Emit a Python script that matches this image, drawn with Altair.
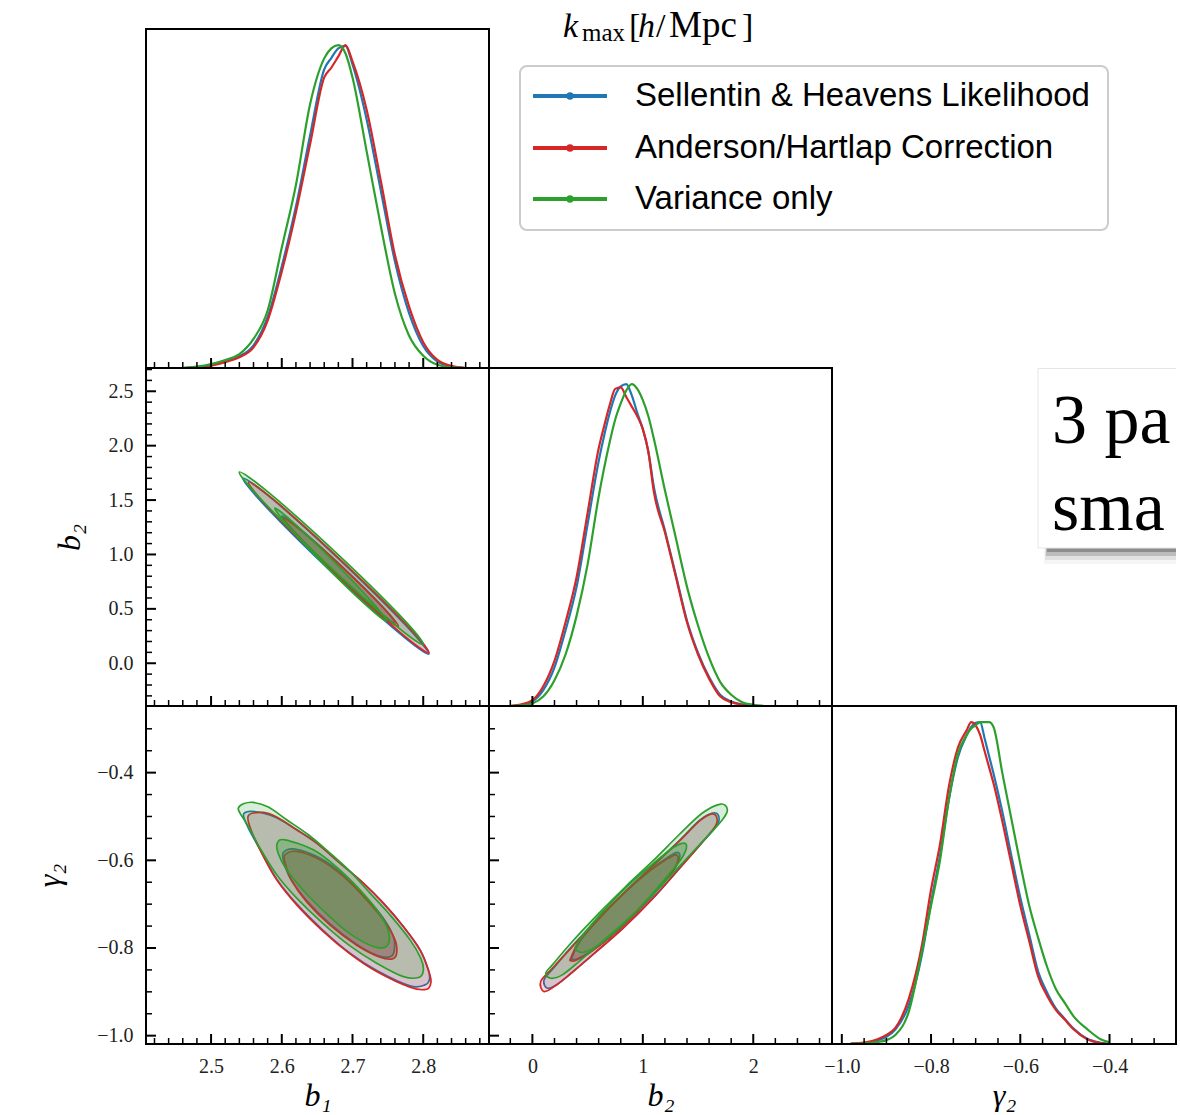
import altair as alt
import pandas as pd

SERIF = "Liberation Serif"
SANS = "Liberation Sans"

SERIES = ["Sellentin & Heavens Likelihood", "Anderson/Hartlap Correction", "Variance only"]
COLORS = ["#1f77b4", "#d62728", "#2ca02c"]

# ---------------- axis ranges and ticks ----------------
B1_DOMAIN = [2.408, 2.893]
B2_DOMAIN_X = [-0.393, 2.713]
B2_DOMAIN_Y = [-0.393, 2.714]
G2_DOMAIN_X = [-1.022, -0.251]
G2_DOMAIN_Y = [-1.019, -0.248]
PDF_DOMAIN = [0.0, 1.05]

B1_MAJOR = [2.5, 2.6, 2.7, 2.8]
B1_MINOR = [2.42, 2.44, 2.46, 2.48, 2.52, 2.54, 2.56, 2.58, 2.62, 2.64, 2.66, 2.68,
            2.72, 2.74, 2.76, 2.78, 2.82, 2.84, 2.86, 2.88]
B2X_MAJOR = [0, 1, 2]
B2X_MINOR = [-0.2, 0.2, 0.4, 0.6, 0.8, 1.2, 1.4, 1.6, 1.8, 2.2, 2.4, 2.6]
B2Y_MAJOR = [0.0, 0.5, 1.0, 1.5, 2.0, 2.5]
B2Y_MINOR = [-0.3, -0.2, -0.1, 0.1, 0.2, 0.3, 0.4, 0.6, 0.7, 0.8, 0.9, 1.1, 1.2, 1.3,
             1.4, 1.6, 1.7, 1.8, 1.9, 2.1, 2.2, 2.3, 2.4, 2.6, 2.7]
G2_MAJOR = [-1.0, -0.8, -0.6, -0.4]
G2_MINOR = [-0.95, -0.9, -0.85, -0.75, -0.7, -0.65, -0.55, -0.5, -0.45, -0.35, -0.3]

# ---------------- 1D marginals (normalised to peak) ----------------
B1_GRID = [2.46, 2.48, 2.50, 2.52, 2.54, 2.56, 2.58, 2.60, 2.62, 2.64, 2.66, 2.67, 2.68,
           2.69, 2.70, 2.72, 2.74, 2.76, 2.78, 2.80, 2.82, 2.84, 2.86]
B1_PDF_SH = [0.0, 0.003, 0.009, 0.02, 0.036, 0.07, 0.158, 0.315, 0.50, 0.72, 0.925, 0.96, 0.99,
             0.998, 0.94, 0.77, 0.55, 0.33, 0.17, 0.068, 0.02, 0.005, 0.0]
B1_PDF_AH = [0.0, 0.002, 0.007, 0.018, 0.033, 0.064, 0.147, 0.299, 0.482, 0.693, 0.90, 0.93, 0.965,
             1.0, 0.95, 0.80, 0.58, 0.35, 0.19, 0.08, 0.025, 0.006, 0.0]
B1_PDF_VO = [0.0, 0.004, 0.012, 0.025, 0.043, 0.09, 0.178, 0.373, 0.567, 0.817, 0.959, 0.99, 1.0,
             0.975, 0.90, 0.671, 0.44, 0.23, 0.10, 0.038, 0.01, 0.002, 0.0]

B2_GRID = [-0.2, -0.1, 0.0, 0.1, 0.2, 0.3, 0.4, 0.5, 0.6, 0.65, 0.7, 0.75, 0.8, 0.85, 0.9, 0.95,
           1.0, 1.05, 1.1, 1.2, 1.3, 1.4, 1.5, 1.6, 1.7, 1.8, 1.9, 2.0, 2.1]
B2_PDF_SH = [0.0, 0.003, 0.014, 0.05, 0.12, 0.235, 0.37, 0.565, 0.76, 0.84, 0.91, 0.965, 0.993, 1.0,
             0.965, 0.91, 0.86, 0.79, 0.68, 0.545, 0.405, 0.265, 0.165, 0.09, 0.035, 0.014, 0.005, 0.0, 0.0]
B2_PDF_AH = [0.0, 0.005, 0.018, 0.062, 0.14, 0.26, 0.40, 0.60, 0.80, 0.87, 0.935, 0.985, 0.99, 0.96,
             0.93, 0.90, 0.86, 0.79, 0.665, 0.54, 0.40, 0.26, 0.16, 0.085, 0.03, 0.012, 0.004, 0.0, 0.0]
B2_PDF_VO = [0.0, 0.002, 0.008, 0.03, 0.08, 0.16, 0.28, 0.44, 0.65, 0.74, 0.82, 0.89, 0.94, 0.98,
             1.0, 0.985, 0.95, 0.90, 0.83, 0.67, 0.52, 0.37, 0.25, 0.15, 0.075, 0.035, 0.012, 0.004, 0.0]

G2_GRID = [-0.98, -0.95, -0.92, -0.90, -0.88, -0.85, -0.82, -0.80, -0.78, -0.76, -0.74, -0.72,
           -0.71, -0.70, -0.69, -0.68, -0.67, -0.66, -0.64, -0.62, -0.60, -0.58, -0.56, -0.54,
           -0.52, -0.50, -0.48, -0.45, -0.42, -0.40]
G2_PDF_SH = [0.001, 0.003, 0.012, 0.022, 0.045, 0.12, 0.28, 0.44, 0.585, 0.76, 0.89, 0.96,
             0.985, 0.998, 1.0, 0.95, 0.895, 0.84, 0.72, 0.585, 0.455, 0.34, 0.225, 0.16,
             0.11, 0.078, 0.047, 0.016, 0.004, 0.0]
G2_PDF_AH = [0.001, 0.004, 0.015, 0.028, 0.05, 0.14, 0.31, 0.48, 0.62, 0.80, 0.92, 0.975,
             1.0, 0.99, 0.96, 0.91, 0.86, 0.81, 0.69, 0.56, 0.43, 0.32, 0.21, 0.15,
             0.105, 0.075, 0.045, 0.015, 0.003, 0.0]
G2_PDF_VO = [0.0, 0.002, 0.006, 0.012, 0.028, 0.10, 0.29, 0.43, 0.57, 0.76, 0.90, 0.96,
             0.98, 0.99, 1.0, 1.0, 1.0, 0.985, 0.84, 0.70, 0.56, 0.43, 0.33, 0.24,
             0.17, 0.127, 0.085, 0.046, 0.015, 0.005]

# ---------------- 2D contours (68% inner, 95% outer) ----------------
# b1 vs b2
C_B1B2_SH_OUT = [(2.808, 0.085), (2.774, 0.356), (2.6835, 0.9405), (2.589, 1.497), (2.545, 1.700),
                 (2.579, 1.429), (2.6695, 0.8445), (2.764, 0.288)]
C_B1B2_SH_IN = [(2.760, 0.370), (2.740, 0.536), (2.6846, 0.892), (2.6268, 1.231), (2.6003, 1.354),
                (2.6206, 1.189), (2.6758, 0.832), (2.7336, 0.493)]
C_B1B2_AH_OUT = [(2.808, 0.094), (2.776, 0.357), (2.687, 0.927), (2.595, 1.469), (2.553, 1.666),
                 (2.585, 1.402), (2.674, 0.833), (2.766, 0.291)]
C_B1B2_AH_IN = [(2.7648, 0.340), (2.744, 0.507), (2.688, 0.868), (2.629, 1.211), (2.602, 1.335),
                (2.623, 1.168), (2.679, 0.8075), (2.736, 0.464)]
C_B1B2_VO_OUT = [(2.800, 0.172), (2.767, 0.440), (2.677, 1.015), (2.583, 1.561), (2.540, 1.758),
                 (2.573, 1.490), (2.663, 0.915), (2.757, 0.369)]
C_B1B2_VO_IN = [(2.748, 0.386), (2.728, 0.559), (2.6735, 0.9355), (2.616, 1.295), (2.590, 1.427),
                (2.610, 1.254), (2.6645, 0.8775), (2.722, 0.518)]

# b1 vs gamma2
C_B1G2_SH_OUT = [(2.5457, -0.4961), (2.5551, -0.4885), (2.5739, -0.4923), (2.5928, -0.5029),
                 (2.6211, -0.5303), (2.6493, -0.5608), (2.6823, -0.6064), (2.7153, -0.6521),
                 (2.7436, -0.6977), (2.7719, -0.7510), (2.7955, -0.8043), (2.8072, -0.8499),
                 (2.8087, -0.8728), (2.8025, -0.8842), (2.7813, -0.8865), (2.7342, -0.8515),
                 (2.6965, -0.8119), (2.6588, -0.7601), (2.6211, -0.6993), (2.5928, -0.6429),
                 (2.5716, -0.5821), (2.5527, -0.5265)]
C_B1G2_SH_IN = [(2.6022, -0.5821), (2.6187, -0.5745), (2.6541, -0.5950), (2.6871, -0.6330),
                (2.7200, -0.6863), (2.7436, -0.7320), (2.7578, -0.7738), (2.7592, -0.8043),
                (2.7540, -0.8195), (2.7365, -0.8180), (2.7050, -0.7906), (2.6682, -0.7449),
                (2.6352, -0.6916), (2.6126, -0.6429), (2.6032, -0.6049)]
C_B1G2_AH_OUT = [(2.5527, -0.4983), (2.5739, -0.4907), (2.5928, -0.5014), (2.6211, -0.5303),
                 (2.6493, -0.5608), (2.6823, -0.6064), (2.7153, -0.6521), (2.7436, -0.6977),
                 (2.7719, -0.7510), (2.7955, -0.8043), (2.8072, -0.8499), (2.8110, -0.8766),
                 (2.8049, -0.8941), (2.7813, -0.8895), (2.7342, -0.8538), (2.6965, -0.8134),
                 (2.6588, -0.7624), (2.6211, -0.7015), (2.5928, -0.6445), (2.5716, -0.5836),
                 (2.5574, -0.5341)]
C_B1G2_AH_IN = [(2.6046, -0.5874), (2.6211, -0.5798), (2.6541, -0.5988), (2.6871, -0.6368),
                (2.7200, -0.6901), (2.7436, -0.7358), (2.7601, -0.7815), (2.7625, -0.8119),
                (2.7568, -0.8248), (2.7389, -0.8210), (2.7059, -0.7936), (2.6682, -0.7480),
                (2.6352, -0.6947), (2.6140, -0.6460), (2.6050, -0.6079)]
C_B1G2_VO_OUT = [(2.5386, -0.4808), (2.5457, -0.4710), (2.5598, -0.4679), (2.5810, -0.4786),
                 (2.6069, -0.5075), (2.6376, -0.5417), (2.6682, -0.5836), (2.6965, -0.6254),
                 (2.7248, -0.6749), (2.7530, -0.7244), (2.7813, -0.7815), (2.7964, -0.8233),
                 (2.8002, -0.8499), (2.7945, -0.8667), (2.7719, -0.8652), (2.7342, -0.8347),
                 (2.6965, -0.7951), (2.6588, -0.7449), (2.6211, -0.6863), (2.5928, -0.6330),
                 (2.5692, -0.5722), (2.5527, -0.5227), (2.5409, -0.4923)]
C_B1G2_VO_IN = [(2.5937, -0.5608), (2.6046, -0.5532), (2.6446, -0.5760), (2.6776, -0.6156),
                (2.7106, -0.6673), (2.7342, -0.7130), (2.7483, -0.7510), (2.7521, -0.7815),
                (2.7460, -0.7982), (2.7295, -0.7967), (2.6965, -0.7678), (2.6635, -0.7221),
                (2.6305, -0.6688), (2.6069, -0.6216), (2.5951, -0.5851)]

# b2 vs gamma2
C_B2G2_SH_OUT = [(0.1052, -0.8728), (0.1958, -0.8446), (0.3618, -0.7951), (0.6034, -0.7304),
                 (0.8449, -0.6696), (1.0865, -0.6125), (1.3280, -0.5554), (1.5092, -0.5097),
                 (1.6300, -0.4922), (1.6843, -0.4976), (1.6752, -0.5189), (1.5454, -0.5569),
                 (1.3341, -0.6178), (1.0925, -0.6863), (0.8208, -0.7548), (0.5792, -0.8081),
                 (0.3679, -0.8538), (0.2260, -0.8827), (0.1354, -0.8918)]
C_B2G2_SH_IN = [(0.3618, -0.8195), (0.4373, -0.7822), (0.6486, -0.7213), (0.8600, -0.6681),
                (1.0714, -0.6216), (1.2223, -0.5935), (1.3129, -0.5820), (1.3341, -0.5935),
                (1.2827, -0.6216), (1.1318, -0.6681), (0.9204, -0.7244), (0.7090, -0.7738),
                (0.5279, -0.8081), (0.4071, -0.8248), (0.3618, -0.8256)]
C_B2G2_AH_OUT = [(0.0750, -0.8766), (0.1807, -0.8461), (0.3618, -0.7967), (0.6034, -0.7320),
                 (0.8449, -0.6711), (1.0865, -0.6140), (1.3280, -0.5569), (1.5092, -0.5113),
                 (1.6149, -0.4945), (1.6662, -0.4999), (1.6601, -0.5204), (1.5394, -0.5585),
                 (1.3280, -0.6193), (1.0865, -0.6878), (0.8147, -0.7563), (0.5732, -0.8096),
                 (0.3618, -0.8553), (0.2108, -0.8857), (0.1052, -0.8994)]
C_B2G2_AH_IN = [(0.3467, -0.8233), (0.4222, -0.7852), (0.6335, -0.7244), (0.8449, -0.6711),
                (1.0563, -0.6254), (1.2072, -0.5988), (1.2978, -0.5874), (1.3189, -0.5988),
                (1.2676, -0.6254), (1.1167, -0.6711), (0.9053, -0.7282), (0.6940, -0.7776),
                (0.5128, -0.8119), (0.3920, -0.8286), (0.3467, -0.8286)]
C_B2G2_VO_OUT = [(0.1203, -0.8575), (0.1807, -0.8385), (0.3618, -0.7852), (0.6034, -0.7206),
                 (0.8449, -0.6597), (1.0865, -0.6026), (1.3280, -0.5417), (1.5394, -0.4922),
                 (1.7054, -0.4717), (1.7658, -0.4846), (1.7206, -0.5075), (1.5696, -0.5493),
                 (1.3582, -0.6064), (1.1167, -0.6711), (0.8751, -0.7320), (0.6335, -0.7852),
                 (0.4222, -0.8309), (0.2712, -0.8613), (0.1656, -0.8690)]
C_B2G2_VO_IN = [(0.3920, -0.7967), (0.4826, -0.7624), (0.6940, -0.7015), (0.9053, -0.6483),
                (1.1167, -0.6026), (1.2676, -0.5722), (1.3733, -0.5607), (1.3944, -0.5722),
                (1.3431, -0.5988), (1.2072, -0.6406), (0.9959, -0.7015), (0.7845, -0.7548),
                (0.6034, -0.7929), (0.4675, -0.8096), (0.4071, -0.8066)]

# ---------------- layout ----------------
COL_W = [343, 343, 344]
ROW_H = [339, 338, 338]
ONE = pd.DataFrame({"a": [0.0]})
MAJOR_LEN, MINOR_LEN = 10, 6


def sc(dom):
    return alt.Scale(domain=dom, nice=False, zero=False)


def lab_axis(ch, major, fmt, lpad, tpad):
    """Axis that shows only labels + title (ticks are drawn as inward rules)."""
    return alt.Axis(orient="bottom" if ch == "x" else "left", values=major, ticks=False,
                    domain=False, grid=False, format=fmt, labelFont=SERIF, labelFontSize=20,
                    labelColor="#222222", labelPadding=lpad, labelOverlap=False, labelFlush=False,
                    titleFont=SERIF, titleFontSize=32, titleFontStyle="italic",
                    titleFontWeight="normal", titleColor="black", titlePadding=tpad)


class Dim:
    """Domain, axis (or None) and title (or None) of one panel dimension."""
    def __init__(self, dom, axis=None, title=None):
        self.dom, self.axis, self.title = dom, axis, title

    def enc(self, ch, field):
        cls = alt.X if ch == "x" else alt.Y
        if self.axis is None:
            return cls(field, scale=sc(self.dom), axis=None, title=None)
        return cls(field, scale=sc(self.dom), axis=self.axis, title=self.title)


def tick_layers(ch, dim, major, minor, h):
    out = []
    for vals, length, width in ((minor, MINOR_LEN, 1.5), (major, MAJOR_LEN, 2.0)):
        df = pd.DataFrame({"v": vals})
        if ch == "x":
            enc = dict(x=dim.enc("x", "v:Q"), y=alt.value(h), y2=alt.value(h - length))
        else:
            enc = dict(y=dim.enc("y", "v:Q"), x=alt.value(0), x2=alt.value(length))
        out.append(alt.Chart(df).mark_rule(color="black", strokeWidth=width).encode(**enc))
    return out


def frame_layer(w, h):
    return alt.Chart(ONE).mark_rect(fillOpacity=0, stroke="black", strokeWidth=2).encode(
        x=alt.value(0), x2=alt.value(w), y=alt.value(0), y2=alt.value(h))


def density_panel(grid, curves, xdim, w, h, ticks):
    ydim = Dim(PDF_DOMAIN)
    layers = []
    for ys, color in zip(curves, COLORS):
        df = pd.DataFrame({"p": grid, "d": ys})
        layers.append(
            alt.Chart(df).mark_line(color=color, strokeWidth=2.2, interpolate="monotone").encode(
                x=xdim.enc("x", "p:Q"), y=ydim.enc("y", "d:Q")))
    return alt.layer(*(layers + ticks + [frame_layer(w, h)])).properties(width=w, height=h)


def contour_panel(polys, xdim, ydim, w, h, ticks):
    layers = []
    for (outer, inner), color in zip(polys, COLORS):
        for pts, alpha in ((outer, 0.18), (inner, 0.30)):
            df = pd.DataFrame({"x": [p[0] for p in pts], "y": [p[1] for p in pts],
                               "i": list(range(len(pts)))})
            layers.append(
                alt.Chart(df).mark_line(interpolate="cardinal-closed", fill=color, fillOpacity=alpha,
                                        stroke=color, strokeWidth=1.7).encode(
                    x=xdim.enc("x", "x:Q"), y=ydim.enc("y", "y:Q"), order=alt.Order("i:Q")))
    return alt.layer(*(layers + ticks + [frame_layer(w, h)])).properties(width=w, height=h)


def txt(s, x, y, size, font=SERIF, style="normal", align="left", baseline="alphabetic", clip=False):
    return alt.Chart(ONE).mark_text(text=s, font=font, fontSize=size, fontStyle=style, align=align,
                                    baseline=baseline, color="black", clip=clip).encode(
        x=alt.value(x), y=alt.value(y))


def anchor_layer():
    return alt.Chart(ONE).mark_point(opacity=0).encode(
        x=alt.X("a:Q", scale=alt.Scale(domain=[0, 1]), axis=None),
        y=alt.Y("a:Q", scale=alt.Scale(domain=[0, 1]), axis=None))


# ---------------- panels ----------------
W0, W1, W2 = COL_W
H0, H1, H2 = ROW_H

b1_plain = Dim(B1_DOMAIN)
b1_lab = Dim(B1_DOMAIN, lab_axis("x", B1_MAJOR, ".1f", 12, 4), "b₁")
b2x_plain = Dim(B2_DOMAIN_X)
b2x_lab = Dim(B2_DOMAIN_X, lab_axis("x", B2X_MAJOR, "d", 12, 4), "b₂")
b2y_lab = Dim(B2_DOMAIN_Y, lab_axis("y", B2Y_MAJOR, ".1f", 13, 22), "b₂")
g2y_lab = Dim(G2_DOMAIN_Y, lab_axis("y", G2_MAJOR, ".1f", 13, 30), "γ₂")
g2y_plain = Dim(G2_DOMAIN_Y)
g2x_lab = Dim(G2_DOMAIN_X, lab_axis("x", G2_MAJOR, ".1f", 12, 4), "γ₂")

p00 = density_panel(B1_GRID, [B1_PDF_SH, B1_PDF_AH, B1_PDF_VO], b1_plain, W0, H0,
                    tick_layers("x", b1_plain, B1_MAJOR, B1_MINOR, H0))

p10 = contour_panel([(C_B1B2_SH_OUT, C_B1B2_SH_IN), (C_B1B2_AH_OUT, C_B1B2_AH_IN),
                     (C_B1B2_VO_OUT, C_B1B2_VO_IN)], b1_plain, b2y_lab, W0, H1,
                    tick_layers("x", b1_plain, B1_MAJOR, B1_MINOR, H1)
                    + tick_layers("y", b2y_lab, B2Y_MAJOR, B2Y_MINOR, H1))

p11 = density_panel(B2_GRID, [B2_PDF_SH, B2_PDF_AH, B2_PDF_VO], b2x_plain, W1, H1,
                    tick_layers("x", b2x_plain, B2X_MAJOR, B2X_MINOR, H1))

p20 = contour_panel([(C_B1G2_SH_OUT, C_B1G2_SH_IN), (C_B1G2_AH_OUT, C_B1G2_AH_IN),
                     (C_B1G2_VO_OUT, C_B1G2_VO_IN)], b1_lab, g2y_lab, W0, H2,
                    tick_layers("x", b1_lab, B1_MAJOR, B1_MINOR, H2)
                    + tick_layers("y", g2y_lab, G2_MAJOR, G2_MINOR, H2))

p21 = contour_panel([(C_B2G2_SH_OUT, C_B2G2_SH_IN), (C_B2G2_AH_OUT, C_B2G2_AH_IN),
                     (C_B2G2_VO_OUT, C_B2G2_VO_IN)], b2x_lab, g2y_plain, W1, H2,
                    tick_layers("x", b2x_lab, B2X_MAJOR, B2X_MINOR, H2)
                    + tick_layers("y", g2y_plain, G2_MAJOR, G2_MINOR, H2))

p22 = density_panel(G2_GRID, [G2_PDF_SH, G2_PDF_AH, G2_PDF_VO], g2x_lab, W2, H2,
                    tick_layers("x", g2x_lab, G2_MAJOR, G2_MINOR, H2))

# legend (sits in the cell right of the top marginal and spills into the next one)
LEG_ROW_Y = [67, 119, 170]
leg_layers = [
    anchor_layer(),
    alt.Chart(ONE).mark_rect(fill="white", stroke="#cccccc", strokeWidth=2, cornerRadius=7).encode(
        x=alt.value(31), x2=alt.value(619), y=alt.value(37), y2=alt.value(201)),
    txt("k", 74, 8, 34, style="italic"),
    txt("max", 93, 12, 25),
    txt("[", 140, 8, 34),
    txt("h", 149, 8, 34, style="italic"),
    txt("/", 167, 8, 34),
    txt("Mpc", 180, 8, 37),
    txt("]", 253, 8, 34),
]
for name, color, yy in zip(SERIES, COLORS, LEG_ROW_Y):
    leg_layers.append(alt.Chart(ONE).mark_rule(color=color, strokeWidth=4).encode(
        x=alt.value(44), x2=alt.value(118), y=alt.value(yy)))
    leg_layers.append(alt.Chart(ONE).mark_point(color=color, filled=True, opacity=1, size=55).encode(
        x=alt.value(81), y=alt.value(yy)))
    leg_layers.append(txt(name, 146, yy, 33, font=SANS, baseline="middle"))
legend_panel = alt.layer(*leg_layers).properties(width=W1, height=H0)

blank_panel = anchor_layer().properties(width=W2, height=H0)

# annotation box (partially outside the figure)
box_layers = [
    anchor_layer(),
    alt.Chart(ONE).mark_rect(fill="#000000", opacity=0.04, clip=True).encode(
        x=alt.value(212), x2=alt.value(400), y=alt.value(4), y2=alt.value(196)),
    alt.Chart(ONE).mark_rect(fill="#000000", opacity=0.08, clip=True).encode(
        x=alt.value(213), x2=alt.value(400), y=alt.value(5), y2=alt.value(192)),
    alt.Chart(ONE).mark_rect(fill="#000000", opacity=0.16, clip=True).encode(
        x=alt.value(214), x2=alt.value(400), y=alt.value(6), y2=alt.value(188)),
    alt.Chart(ONE).mark_rect(fill="#000000", opacity=0.25, clip=True).encode(
        x=alt.value(215), x2=alt.value(400), y=alt.value(7), y2=alt.value(184)),
    alt.Chart(ONE).mark_rect(fill="white", stroke="#e6e6e6", strokeWidth=1, clip=True).encode(
        x=alt.value(206), x2=alt.value(400), y=alt.value(0.5), y2=alt.value(180)),
    txt("3 pa", 220, 75, 70, clip=True),
    txt("sma", 220, 162, 70, clip=True),
]
box_panel = alt.layer(*box_layers).properties(width=W2, height=H1)

chart = alt.concat(
    p00, legend_panel, blank_panel,
    p10, p11, box_panel,
    p20, p21, p22,
    columns=3, spacing=0, bounds="flush", align="each",
).properties(
    padding={"left": 33, "top": 6, "right": 0, "bottom": 0},
    background="white",
).configure(font=SERIF).configure_view(stroke="transparent")

chart.save("out.html", embed_options={"renderer": "svg", "actions": False})
